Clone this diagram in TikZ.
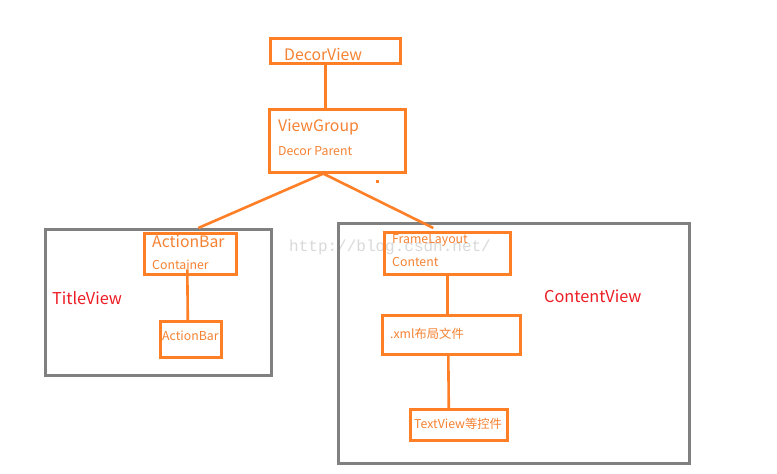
\documentclass[tikz,border=0pt]{standalone}
\usepackage{fontspec}
\setmainfont{Noto Sans CJK SC}
\newfontfamily\markfont{Liberation Mono}
\definecolor{paintorange}{RGB}{255,127,39}
\definecolor{labelorange}{RGB}{245,130,50}
\definecolor{framegray}{RGB}{128,128,128}
\definecolor{viewred}{RGB}{237,28,36}
\tikzset{
  obox/.style={draw=paintorange, line width=2.6pt, anchor=north west, inner sep=0pt},
  gbox/.style={draw=framegray, line width=2.6pt, anchor=north west, inner sep=0pt},
  link/.style={draw=paintorange, line width=2.6pt},
  bigtxt/.style={text=labelorange, anchor=west, inner sep=0pt, font=\fontsize{15.8}{18}\selectfont},
  smalltxt/.style={text=labelorange, anchor=west, inner sep=0pt, font=\fontsize{12.3}{14}\selectfont},
  viewtxt/.style={text=viewred, anchor=west, inner sep=0pt, font=\fontsize{16.3}{19}\selectfont}
}
\begin{document}
\begin{tikzpicture}[x=1pt, y=-1pt, line cap=rect, line join=miter]

\useasboundingbox[fill=white] (0,0) rectangle (777,474);

% Watermark
\node[text=black!15, anchor=west, inner sep=0pt, font=\markfont\fontsize{16}{18}\selectfont] (mark) at (289,247) {http://blog.csdn.net/};

% Outer views
\node[gbox, minimum width=226pt, minimum height=146pt] (title) at (44,228) {};
\node[gbox, minimum width=351pt, minimum height=240pt] (content) at (337,222) {};
\node[viewtxt] (titlelbl) at (52,298) {TitleView};
\node[viewtxt] (contentlbl) at (544,296) {ContentView};

% Top boxes
\node[obox, minimum width=130pt, minimum height=25pt] (decor) at (269,37) {};
\node[bigtxt] (decortxt) at (284,54) {DecorView};
\node[obox, minimum width=136pt, minimum height=63pt] (vgroup) at (268,108) {};
\node[bigtxt] (vgrouptxt) at (278,127) {ViewGroup};
\node[smalltxt] (vparenttxt) at (278,151) {Decor Parent};

% Left branch
\node[obox, minimum width=92pt, minimum height=41pt] (abc) at (143,232) {};
\node[bigtxt] (abctxt) at (152,241) {ActionBar};
\node[smalltxt] (conttxt) at (152,265) {Container};
\node[obox, minimum width=61pt, minimum height=36pt] (abar) at (159,320) {};
\node[smalltxt] (abartxt) at (162,336) {ActionBar};

% Right branch
\node[obox, minimum width=126pt, minimum height=42pt] (frame) at (383,231) {};
\node[smalltxt] (frametxt) at (392,240) {FrameLayout};
\node[smalltxt] (fcontxt) at (392,262) {Content};
\node[obox, minimum width=138pt, minimum height=39pt] (xml) at (381,314) {};
\node[smalltxt] (xmltxt) at (390,334) {.xml布局文件};
\node[obox, minimum width=97pt, minimum height=31pt] (tview) at (409,408) {};
\node[smalltxt] (tviewtxt) at (414,424) {TextView等控件};

% Connectors
\draw[link] ([xshift=-10pt]decor.south) -- ([xshift=-12pt]vgroup.north);
\draw[link, line cap=butt] ([xshift=-14pt]vgroup.south) -- ([xshift=8pt,yshift=4pt]abc.north);
\draw[link, line cap=butt] ([xshift=-14pt]vgroup.south) -- ([xshift=-14pt,yshift=3pt]frame.north);
\draw[link] ([xshift=-3pt,yshift=5pt]abc.south) -- ([xshift=-3pt]abar.north);
\draw[link] (frame.south) -- (frame.south |- xml.north);
\draw[link] ([xshift=-3pt]xml.south) -- ([xshift=-10pt]tview.north);

% Stray dot
\fill[paintorange] (376,180) rectangle (379,183);

\end{tikzpicture}
\end{document}
